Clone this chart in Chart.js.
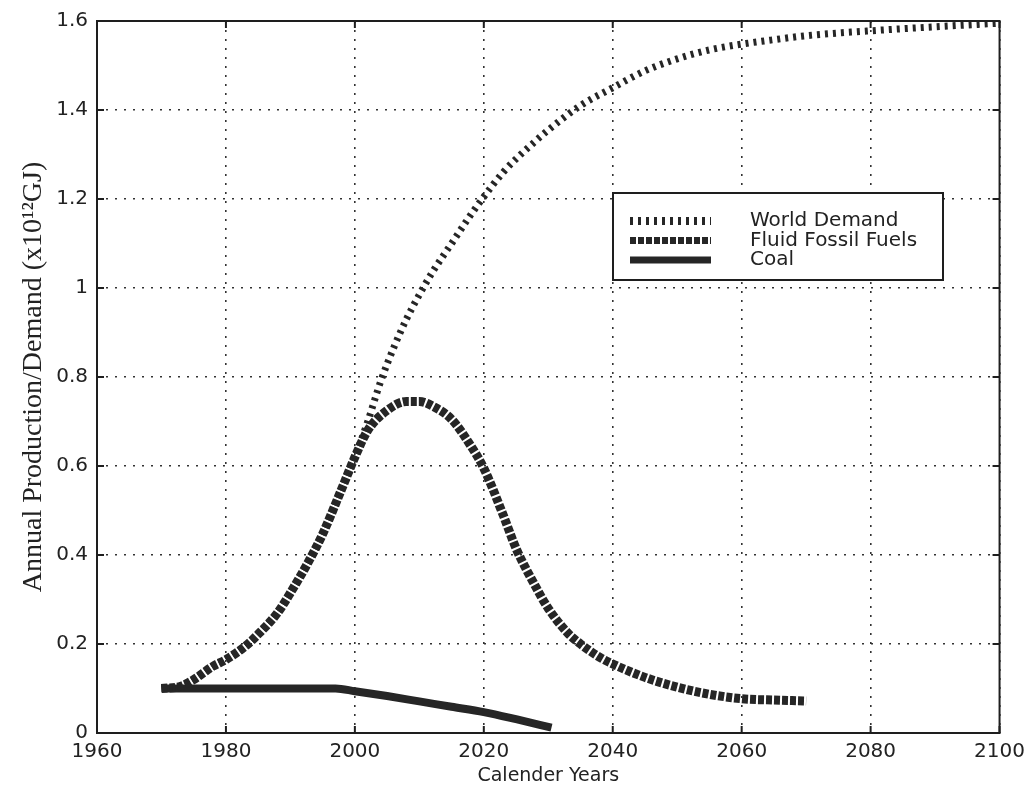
<!DOCTYPE html>
<html>
<head>
<meta charset="utf-8">
<script src="https://cdn.jsdelivr.net/npm/chart.js@4/dist/chart.umd.min.js"></script>
<style>
html, body { margin: 0; padding: 0; background: #fff; }
</style>
</head>
<body>
<canvas id="grafico" width="1032" height="792"></canvas>
<script>
// dados
var demandYears = [1970, 1973, 1975, 1978, 1980, 1983, 1985, 1988, 1990, 1993, 1995, 1998, 2000, 2002, 2004, 2006, 2008, 2010, 2012, 2015, 2018, 2020, 2023, 2025, 2028, 2030, 2035, 2040, 2045, 2050, 2055, 2060, 2065, 2070, 2080, 2090, 2100];
var demandValues = [0.10, 0.105, 0.12, 0.15, 0.165, 0.195, 0.222, 0.27, 0.315, 0.39, 0.447, 0.55, 0.62, 0.70, 0.79, 0.865, 0.93, 0.985, 1.035, 1.10, 1.165, 1.205, 1.26, 1.29, 1.33, 1.355, 1.41, 1.45, 1.488, 1.515, 1.535, 1.548, 1.558, 1.567, 1.578, 1.587, 1.595];

var fluidYears = [1970, 1973, 1975, 1978, 1980, 1983, 1985, 1988, 1990, 1993, 1995, 1998, 2000, 2002, 2005, 2008, 2010, 2012, 2015, 2018, 2020, 2023, 2025, 2028, 2030, 2033, 2035, 2038, 2040, 2045, 2050, 2055, 2060, 2065, 2070];
var fluidValues = [0.10, 0.105, 0.12, 0.15, 0.165, 0.195, 0.222, 0.27, 0.315, 0.39, 0.447, 0.55, 0.62, 0.68, 0.725, 0.745, 0.745, 0.735, 0.705, 0.645, 0.595, 0.49, 0.415, 0.33, 0.28, 0.225, 0.20, 0.17, 0.155, 0.125, 0.103, 0.087, 0.077, 0.074, 0.072];

var coalYears = [1970, 1997, 2000, 2005, 2010, 2015, 2020, 2025, 2030.5];
var coalValues = [0.10, 0.10, 0.094, 0.083, 0.071, 0.059, 0.047, 0.031, 0.012];

var xTicks = [1960, 1980, 2000, 2020, 2040, 2060, 2080, 2100];
var yTicks = [0, 0.2, 0.4, 0.6, 0.8, 1, 1.2, 1.4, 1.6];

var seriesNames = ["World Demand", "Fluid Fossil Fuels", "Coal"];

var cor = "#262626";
var fonteSans = "'DejaVu Sans', sans-serif";

function pontos(anos, valores) {
    return anos.map(function (a, i) { return { x: a, y: valores[i] }; });
}

// moldura, marcas internas e legenda dentro do grafico
var moldura = {
    id: "moldura",
    afterDraw: function (chart) {
        var ctx = chart.ctx;
        var ca = chart.chartArea;
        var sx = chart.scales.x, sy = chart.scales.y;
        ctx.save();
        ctx.strokeStyle = "#1e1e1e";
        ctx.lineWidth = 2;
        ctx.setLineDash([]);
        ctx.strokeRect(ca.left, ca.top, ca.right - ca.left, ca.bottom - ca.top);
        ctx.beginPath();
        xTicks.forEach(function (v) {
            var px = sx.getPixelForValue(v);
            ctx.moveTo(px, ca.bottom); ctx.lineTo(px, ca.bottom - 7);
            ctx.moveTo(px, ca.top); ctx.lineTo(px, ca.top + 7);
        });
        yTicks.forEach(function (v) {
            var py = sy.getPixelForValue(v);
            ctx.moveTo(ca.left, py); ctx.lineTo(ca.left + 7, py);
            ctx.moveTo(ca.right, py); ctx.lineTo(ca.right - 7, py);
        });
        ctx.stroke();

        // legenda
        var bx = 613, by = 193, bw = 330, bh = 87;
        ctx.fillStyle = "#fff";
        ctx.fillRect(bx, by, bw, bh);
        ctx.strokeRect(bx, by, bw, bh);
        ctx.font = "20px " + fonteSans;
        ctx.textBaseline = "middle";
        chart.data.datasets.forEach(function (ds, i) {
            var y = 221 + i * 19.5;
            ctx.save();
            ctx.strokeStyle = ds.borderColor;
            ctx.lineWidth = ds.legendWidth;
            ctx.setLineDash(ds.borderDash || []);
            ctx.beginPath();
            ctx.moveTo(630, y);
            ctx.lineTo(711, y);
            ctx.stroke();
            ctx.restore();
            ctx.fillStyle = "#222";
            ctx.fillText(ds.label, 750, y);
        });
        ctx.restore();
    }
};

var ctx = document.getElementById("grafico");

var chartGraph = new Chart(ctx, {
    type: "line",
    data: {
        datasets: [
            {
                label: seriesNames[0],
                data: pontos(demandYears, demandValues),
                borderColor: cor,
                borderWidth: 7,
                borderDash: [3, 5],
                legendWidth: 8,
                pointRadius: 0,
                cubicInterpolationMode: "monotone",
                fill: false
            }, {
                label: seriesNames[1],
                data: pontos(fluidYears, fluidValues),
                borderColor: cor,
                borderWidth: 9,
                borderDash: [6, 2],
                legendWidth: 7,
                pointRadius: 0,
                cubicInterpolationMode: "monotone",
                fill: false
            }, {
                label: seriesNames[2],
                data: pontos(coalYears, coalValues),
                borderColor: cor,
                borderWidth: 8,
                legendWidth: 7,
                pointRadius: 0,
                cubicInterpolationMode: "monotone",
                fill: false
            }]
    },
    options: {
        responsive: false,
        animation: false,
        devicePixelRatio: 1,
        layout: { padding: { top: 17, right: 30, left: 0, bottom: 0 } },
        plugins: {
            legend: { display: false },
            tooltip: { enabled: false }
        },
        scales: {
            x: {
                type: "linear",
                min: 1960,
                max: 2100,
                afterBuildTicks: function (scale) {
                    scale.ticks = xTicks.map(function (v) { return { value: v }; });
                },
                afterFit: function (scale) { scale.height = 59; },
                ticks: {
                    color: "#222",
                    font: { family: fonteSans, size: 20 },
                    padding: 7,
                    maxRotation: 0,
                    callback: function (v) { return String(v); }
                },
                grid: { color: "#333", lineWidth: 1.6, drawTicks: false },
                border: { display: false, dash: [2, 7] },
                title: {
                    display: true,
                    text: "Calender Years",
                    color: "#222",
                    font: { family: fonteSans, size: 19 },
                    padding: { top: 0, bottom: 5 }
                }
            },
            y: {
                min: 0,
                max: 1.6,
                afterBuildTicks: function (scale) {
                    scale.ticks = yTicks.map(function (v) { return { value: v }; });
                },
                afterFit: function (scale) { scale.width = 97; },
                ticks: {
                    color: "#222",
                    font: { family: fonteSans, size: 20 },
                    padding: 9,
                    callback: function (v) { return String(+v.toFixed(1)); }
                },
                grid: { color: "#333", lineWidth: 1.6, drawTicks: false },
                border: { display: false, dash: [2, 7] },
                title: {
                    display: true,
                    text: "Annual Production/Demand (x10¹²GJ)",
                    color: "#222",
                    font: { family: "'Liberation Serif', serif", size: 28 },
                    padding: { top: 17, bottom: 0 }
                }
            }
        }
    },
    plugins: [moldura]
});
</script>
</body>
</html>
